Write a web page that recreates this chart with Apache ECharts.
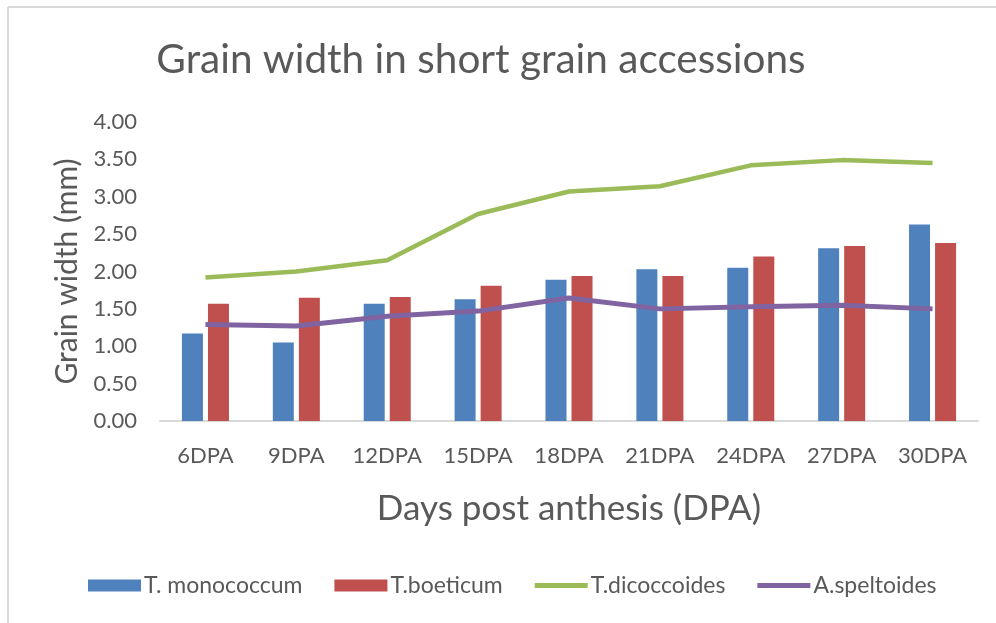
<!DOCTYPE html>
<html><head><meta charset="utf-8">
<script src="https://cdn.jsdelivr.net/npm/echarts@6/dist/echarts.min.js"></script>
<style>html,body{margin:0;padding:0;background:#fff}#c{width:996px;height:623px}</style>
</head><body><div id="c"></div>
<script>
const categories = ['6DPA','9DPA','12DPA','15DPA','18DPA','21DPA','24DPA','27DPA','30DPA'];
const monococcum = [1.17,1.05,1.57,1.63,1.89,2.03,2.05,2.31,2.63];
const boeticum = [1.57,1.65,1.66,1.81,1.94,1.94,2.20,2.34,2.38];
const dicoccoides = [1.92,2.00,2.15,2.77,3.07,3.14,3.42,3.49,3.45];
const speltoides = [1.29,1.27,1.40,1.47,1.645,1.50,1.53,1.55,1.50];
const yTicks = ['0.00','0.50','1.00','1.50','2.00','2.50','3.00','3.50','4.00'];

const FONT = 'Lato';
const GREY = '#595959';
const LINE_ICON = 'path://M0,0 L53,0 L53,5 L0,5 Z';
const chart = echarts.init(document.getElementById('c'), null, {renderer:'canvas'});
chart.setOption({
  backgroundColor:'#fff',
  animation:false,
  title:{text:'Grain width in short grain accessions', left:476, top:34, textAlign:'center',
    textStyle:{fontFamily:FONT, fontSize:40.5, fontWeight:'normal', color:GREY}},
  legend:{bottom:21, left:83, itemGap:32, itemWidth:53, itemHeight:12,
    textStyle:{fontFamily:FONT, fontSize:23, color:GREY, padding:[0,0,0,-2]},
    data:[{name:'T. monococcum', icon:'rect'},{name:'T.boeticum', icon:'rect'},
      {name:'T.dicoccoides', icon:LINE_ICON},{name:'A.speltoides', icon:LINE_ICON}]},
  grid:{left:160, right:18, top:122, bottom:202},
  xAxis:{type:'category', data:categories,
    axisLine:{lineStyle:{color:'#d9d9d9', width:2}}, axisTick:{show:false},
    axisLabel:{fontFamily:FONT, fontSize:22, color:GREY, margin:24},
    name:'Days post anthesis (DPA)', nameLocation:'middle', nameGap:70,
    nameTextStyle:{fontFamily:FONT, fontSize:35, color:GREY}},
  yAxis:{type:'value', min:0, max:4, interval:0.5,
    axisLine:{show:false}, axisTick:{show:false}, splitLine:{show:false},
    axisLabel:{fontFamily:FONT, fontSize:22, color:GREY, margin:23,
      formatter:function(v){return yTicks[Math.round(v/0.5)];}},
    name:'Grain width (mm)', nameLocation:'middle', nameGap:78, nameRotate:90,
    nameTextStyle:{fontFamily:FONT, fontSize:30, color:GREY}},
  series:[
    {name:'T. monococcum', type:'bar', data:monococcum, barWidth:21, barGap:'24%',
      itemStyle:{color:'#4F81BD'}},
    {name:'T.boeticum', type:'bar', data:boeticum, barWidth:21,
      itemStyle:{color:'#C0504D'}},
    {name:'T.dicoccoides', type:'line', data:dicoccoides, symbol:'none',
      lineStyle:{color:'#9BBB59', width:4.5}, itemStyle:{color:'#9BBB59'}},
    {name:'A.speltoides', type:'line', data:speltoides, symbol:'none',
      lineStyle:{color:'#8064A2', width:5}, itemStyle:{color:'#8064A2'}}
  ],
  graphic:[
    {type:'line', shape:{x1:8, y1:7, x2:996, y2:7}, style:{stroke:'#d9d9d9', lineWidth:2}},
    {type:'line', shape:{x1:8, y1:7, x2:8, y2:623}, style:{stroke:'#d9d9d9', lineWidth:2}}
  ]
});
</script></body></html>
